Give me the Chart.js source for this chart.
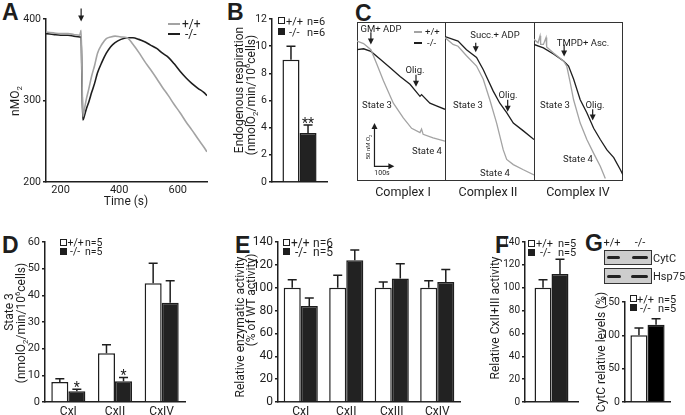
<!DOCTYPE html>
<html>
<head>
<meta charset="utf-8">
<title>Respiration panels</title>
<script src="https://cdn.jsdelivr.net/npm/chart.js@4.4.1/dist/chart.umd.min.js"></script>
<style>
  body { margin: 0; background: #fff; }
  #fig { position: relative; width: 685px; height: 415px; overflow: hidden; font-family: Roboto, sans-serif; color: #1e1e1e; }
  canvas { position: absolute; }
  .c, .l, .v { position: absolute; white-space: pre; line-height: 1; }
  .c { transform: translate(-50%, -50%); }
  .l { transform: translate(0, -50%); }
  .v { transform: translate(-50%, -50%) rotate(-90deg); }
  .big { position: absolute; font: bold 23px "Liberation Sans", Arial, sans-serif; line-height: 1; }
  .sq { position: absolute; width: 7px; height: 7px; box-sizing: border-box; border: 1px solid #1e1e1e; background: #fff; }
  .sq.k { background: #1e1e1e; }
  .ln { position: absolute; height: 2px; }
  sub, sup { font-size: 0.65em; line-height: 0; }
  .frame { position: absolute; box-sizing: border-box; border: 1.5px solid #333; }
  .div { position: absolute; width: 1.5px; background: #333; }
  .blot { position: absolute; box-sizing: border-box; background: #cdcdcd; border: 1px solid #333; }
  .band { position: absolute; height: 3px; background: #222; border-radius: 2px; filter: blur(0.6px); }
  .s12 { font-size: 12px; }
  .s11 { font-size: 11px; }
  .s10 { font-size: 9.5px; }
  .s105 { font-size: 10.5px; }
</style>
</head>
<body>
<div id="fig">
  <!-- panel letters -->
  <div class="big" style="left:2px;top:1px">A</div>
  <div class="big" style="left:227px;top:1px">B</div>
  <div class="big" style="left:355px;top:2px">C</div>
  <div class="big" style="left:2px;top:234px">D</div>
  <div class="big" style="left:235px;top:234px">E</div>
  <div class="big" style="left:495px;top:234px">F</div>
  <div class="big" style="left:585px;top:232px">G</div>

  <!-- C frames -->
  <div class="frame" style="left:357px;top:22px;width:266px;height:159px"></div>
  <div class="div" style="left:444.5px;top:22px;height:159px"></div>
  <div class="div" style="left:533.5px;top:22px;height:159px"></div>

  <canvas id="chA"></canvas>
  <canvas id="chB"></canvas>
  <canvas id="chC1"></canvas>
  <canvas id="chC2"></canvas>
  <canvas id="chC4"></canvas>
  <canvas id="chD"></canvas>
  <canvas id="chE"></canvas>
  <canvas id="chF"></canvas>
  <canvas id="chG"></canvas>

  <!-- A texts -->
  <div class="v s12" style="left:15px;top:101px">nMO<sub>2</sub></div>
  <div class="c s12" style="left:126px;top:201px">Time (s)</div>
  <div class="ln" style="left:168px;top:23px;width:12px;background:#a3a3a3"></div>
  <div class="l s12" style="left:182px;top:24px">+/+</div>
  <div class="ln" style="left:168px;top:33px;width:12px;background:#1e1e1e"></div>
  <div class="l s12" style="left:185px;top:34px">-/-</div>

  <!-- B texts -->
  <div class="v s12" style="left:238.5px;top:90px">Endogenous respiration</div>
  <div class="v s12" style="left:251px;top:95px">(nmolO<sub>2</sub>/min/10<sup>6</sup>cells)</div>
  <div class="sq" style="left:278px;top:17px"></div>
  <div class="l s11" style="left:286px;top:20.5px">+/+</div>
  <div class="l s11" style="left:307px;top:20.5px">n=6</div>
  <div class="sq k" style="left:278px;top:28px"></div>
  <div class="l s11" style="left:289px;top:31.5px">-/-</div>
  <div class="l s11" style="left:307px;top:31.5px">n=6</div>

  <!-- C texts -->
  <div class="c s10" style="left:381px;top:29px">GM+ ADP</div>
  <div class="ln" style="left:414px;top:31px;width:8px;height:1.5px;background:#a3a3a3"></div>
  <div class="l s10" style="left:425px;top:32px">+/+</div>
  <div class="ln" style="left:414px;top:42px;width:8px;height:1.5px;background:#1e1e1e"></div>
  <div class="l s10" style="left:427px;top:43px">-/-</div>
  <div class="c s10" style="left:415px;top:70px">Olig.</div>
  <div class="c s10" style="left:377px;top:105px">State 3</div>
  <div class="c s10" style="left:427px;top:151px">State 4</div>
  <div class="v" style="left:368px;top:147px;font-size:6px">50 nM O<sub>2</sub></div>
  <div class="c" style="left:382px;top:173px;font-size:7px">100s</div>
  <div class="c s10" style="left:495px;top:35px">Succ.+ ADP</div>
  <div class="c s10" style="left:508px;top:95px">Olig.</div>
  <div class="c s10" style="left:468px;top:105px">State 3</div>
  <div class="c s10" style="left:495px;top:173px">State 4</div>
  <div class="c s10" style="left:583px;top:43px">TMPD+ Asc.</div>
  <div class="c s10" style="left:555px;top:105px">State 3</div>
  <div class="c s10" style="left:595px;top:105px">Olig.</div>
  <div class="c s10" style="left:578px;top:159px">State 4</div>
  <div class="c" style="left:403px;top:192px;font-size:12.5px">Complex I</div>
  <div class="c" style="left:488px;top:192px;font-size:12.5px">Complex II</div>
  <div class="c" style="left:578px;top:192px;font-size:12.5px">Complex IV</div>

  <!-- D texts -->
  <div class="v s12" style="left:9px;top:312px">State 3</div>
  <div class="v s12" style="left:21px;top:323px">(nmolO<sub>2</sub>/min/10<sup>6</sup>cells)</div>
  <div class="sq" style="left:60px;top:239px"></div>
  <div class="l s105" style="left:67.5px;top:242.5px">+/+</div>
  <div class="l s105" style="left:85px;top:242.5px">n=5</div>
  <div class="sq k" style="left:60px;top:248px"></div>
  <div class="l s105" style="left:70px;top:251.5px">-/-</div>
  <div class="l s105" style="left:85px;top:251.5px">n=5</div>

  <!-- E texts -->
  <div class="v s12" style="left:240px;top:327px">Relative enzymatic activity</div>
  <div class="v s12" style="left:251px;top:300px">(% of WT activity)</div>
  <div class="sq" style="left:283px;top:239px"></div>
  <div class="l s12" style="left:291px;top:242.5px">+/+</div>
  <div class="l s12" style="left:313px;top:242.5px">n=6</div>
  <div class="sq k" style="left:283px;top:248px"></div>
  <div class="l s12" style="left:295px;top:251.5px">-/-</div>
  <div class="l s12" style="left:313px;top:251.5px">n=5</div>

  <!-- F texts -->
  <div class="v s12" style="left:495px;top:318px">Relative CxII+III activity</div>
  <div class="sq" style="left:528px;top:240px"></div>
  <div class="l s11" style="left:536px;top:243px">+/+</div>
  <div class="l s11" style="left:558px;top:243px">n=5</div>
  <div class="sq k" style="left:528px;top:249px"></div>
  <div class="l s11" style="left:540px;top:252px">-/-</div>
  <div class="l s11" style="left:558px;top:252px">n=5</div>

  <!-- G texts and blot -->
  <div class="c s11" style="left:612px;top:242px">+/+</div>
  <div class="c s11" style="left:640px;top:242px">-/-</div>
  <div class="blot" style="left:604px;top:250px;width:48px;height:15px"></div>
  <div class="band" style="left:607px;top:256px;width:13px"></div>
  <div class="band" style="left:632px;top:256px;width:16px"></div>
  <div class="blot" style="left:604px;top:268px;width:48px;height:16px"></div>
  <div class="band" style="left:607px;top:275px;width:14px"></div>
  <div class="band" style="left:631px;top:275px;width:17px"></div>
  <div class="l s11" style="left:653px;top:258px">CytC</div>
  <div class="l s11" style="left:653px;top:276px">Hsp75</div>
  <div class="v s12" style="left:601px;top:352px">CytC relative levels (%)</div>
  <div class="sq" style="left:630px;top:295px"></div>
  <div class="l s11" style="left:637px;top:299px">+/+</div>
  <div class="l s11" style="left:658px;top:299px">n=5</div>
  <div class="sq k" style="left:630px;top:304px"></div>
  <div class="l s11" style="left:640px;top:308px">-/-</div>
  <div class="l s11" style="left:658px;top:308px">n=5</div>
</div>

<script>
const F = 'Roboto';
const ink = '#1e1e1e';
const lightInk = '#a3a3a3';

// A: oxygen trace, time (s) vs nmol O2
const timeA = [150,175,200,225,245,265,270,273,276,281,288,296,306,316,326,341,356,371,386,406,
               427,447,467,487,507,528,548,568,588,608,628,648,669,689,700];
const wtA = [384,383,382,382,381,380,386,330,280,289,302,314,330,343,358,369,376,378,379,378,
             377,369,359,348,338,327,316,306,295,285,274,264,253,243,237];
const koA = [382,381,380,380,379,378,378,320,276,281,290,298,310,321,334,347,358,366,371,375,
             377,377,375,372,368,364,358,353,345,336,328,321,315,310,306];
const timeTicksA = [200,400,600];
const nmoTicksA = [200,300,400];

// B: endogenous respiration
const bLabels = [''];
const bWT = [9.0], bKO = [3.6];
const bWTerr = [10.0], bKOerr = [4.2];
const bStars = ['**'];
const bTicks = [0,2,4,6,8,10,12];

// C: oxygraph traces (time s, O2 nM) per complex
const tC1wt = [0,33,70,100,133,183,233,275,317,325,333,383,443];
const o2C1wt = [162,159,152,135,116,90,73,61,56,60,54,50,46];
const tC1ko = [0,33,70,117,167,217,267,317,325,367,400,443];
const o2C1ko = [152,153,150,141,131,121,112,98,100,90,87,83];
const tC2wt = [0,40,65,107,157,190,223,257,290,307,340,390,443];
const o2C2wt = [166,158,156,145,133,118,94,67,36,25,19,13,7];
const tC2ko = [0,40,65,107,157,190,240,273,307,340,390,443];
const o2C2ko = [167,164,162,152,143,129,104,90,79,67,58,48];
const tC4wt = [0,20,30,33,47,60,63,97,147,163,180,197,230,263,297,330,355];
const o2C4wt = [164,160,168,158,158,166,155,148,139,133,114,94,67,48,32,17,3];
const tC4ko = [0,47,97,147,172,197,230,263,297,330,363,397,430,443];
const o2C4ko = [158,154,147,139,133,118,94,79,61,48,36,27,13,7];

// D: state 3 respiration
const dLabels = ['CxI','CxII','CxIV'];
const dWT = [7.5,18.3,44.5], dKO = [4.0,7.8,37.2];
const dWTerr = [8.7,21.5,52.0], dKOerr = [4.8,9.2,45.5];
const dStars = ['*','*',''];
const dTicks = [0,10,20,30,40,50,60];

// E: enzymatic activity
const eLabels = ['CxI','CxII','CxIII','CxIV'];
const eWT = [100,100,100,100], eKO = [84,124,108,105];
const eWTerr = [107,111,105,106], eKOerr = [91,133,121,116];
const pctTicks = [0,20,40,60,80,100,120,140];

// F: CxII+III activity
const fLabels = [''];
const fWT = [100], fKO = [112];
const fWTerr = [107], fKOerr = [125];

// G: CytC levels
const gLabels = [''];
const gWT = [100], gKO = [116];
const gWTerr = [111], gKOerr = [125];
const gTicks = [0,50,100,150];

function place(id, area, pad) {
  const cv = document.getElementById(id);
  cv.width = Math.round(area.r - area.l + pad.l + pad.r);
  cv.height = Math.round(area.b - area.t + pad.t + pad.b);
  cv.style.left = (area.l - pad.l) + 'px';
  cv.style.top = (area.t - pad.t) + 'px';
  return cv;
}

const errorBars = {
  id: 'errorBars',
  afterDatasetsDraw(chart) {
    const ctx = chart.ctx, y = chart.scales.y;
    ctx.save();
    ctx.strokeStyle = ink; ctx.fillStyle = ink; ctx.lineWidth = 1.5;
    chart.data.datasets.forEach((ds, i) => {
      chart.getDatasetMeta(i).data.forEach((bar, j) => {
        const top = y.getPixelForValue(ds.err[j]);
        ctx.beginPath();
        ctx.moveTo(bar.x, bar.y); ctx.lineTo(bar.x, top);
        ctx.moveTo(bar.x - 4.5, top); ctx.lineTo(bar.x + 4.5, top);
        ctx.stroke();
        if (ds.stars && ds.stars[j]) {
          ctx.font = '14px ' + F; ctx.textAlign = 'center'; ctx.textBaseline = 'alphabetic';
          ctx.fillText(ds.stars[j], bar.x, top + 3);
        }
      });
    });
    ctx.restore();
  }
};

// down arrows (and the optional scale bar) in data units
function arrows(list, bar) {
  return {
    id: 'arrows',
    afterDatasetsDraw(chart) {
      const ctx = chart.ctx, x = chart.scales.x, y = chart.scales.y;
      ctx.save();
      ctx.strokeStyle = ink; ctx.fillStyle = ink; ctx.lineWidth = 1.2;
      list.forEach(a => {
        const px = x.getPixelForValue(a.t), p1 = y.getPixelForValue(a.y1), p2 = y.getPixelForValue(a.y2);
        ctx.beginPath(); ctx.moveTo(px, p1); ctx.lineTo(px, p2 - 4); ctx.stroke();
        ctx.beginPath(); ctx.moveTo(px - 3, p2 - 6); ctx.lineTo(px + 3, p2 - 6); ctx.lineTo(px, p2); ctx.closePath(); ctx.fill();
      });
      if (bar) {
        const x0 = x.getPixelForValue(bar.t), y0 = y.getPixelForValue(bar.o2);
        const x1 = x.getPixelForValue(bar.t + bar.dt), y1 = y.getPixelForValue(bar.o2 + bar.dO2);
        ctx.beginPath(); ctx.moveTo(x0, y1 + 5); ctx.lineTo(x0, y0); ctx.lineTo(x1 - 5, y0); ctx.stroke();
        ctx.beginPath(); ctx.moveTo(x0 - 3, y1 + 6); ctx.lineTo(x0 + 3, y1 + 6); ctx.lineTo(x0, y1); ctx.closePath(); ctx.fill();
        ctx.beginPath(); ctx.moveTo(x1 - 6, y0 - 3); ctx.lineTo(x1 - 6, y0 + 3); ctx.lineTo(x1, y0); ctx.closePath(); ctx.fill();
      }
      ctx.restore();
    }
  };
}

function pts(xs, ys) { return xs.map((v, i) => ({ x: v, y: ys[i] })); }

// panel A
const padA = { l: 40, t: 16, r: 8, b: 16 };
new Chart(place('chA', { l: 46, t: 19, r: 207, b: 182 }, padA), {
  type: 'line',
  data: { datasets: [
    { data: pts(timeA, wtA), borderColor: lightInk, borderWidth: 1.6 },
    { data: pts(timeA, koA), borderColor: ink, borderWidth: 1.6 }
  ]},
  options: {
    responsive: false, animation: false,
    layout: { padding: { top: padA.t, right: padA.r } },
    elements: { point: { radius: 0 }, line: { cubicInterpolationMode: 'monotone' } },
    plugins: { legend: { display: false }, tooltip: { enabled: false } },
    scales: {
      x: { type: 'linear', min: 150, max: 700, grid: { display: false, drawTicks: false }, border: { color: ink, width: 1.5 },
           ticks: { color: ink, font: { family: F, size: 11 }, padding: 2 },
           afterBuildTicks: s => { s.ticks = timeTicksA.map(v => ({ value: v })); },
           afterFit: s => { s.height = padA.b; } },
      y: { min: 200, max: 400, grid: { drawOnChartArea: false, color: ink, lineWidth: 1.5, tickLength: 3 },
           border: { color: ink, width: 1.5 },
           ticks: { color: ink, font: { family: F, size: 10.5 }, padding: 2 },
           afterBuildTicks: s => { s.ticks = nmoTicksA.map(v => ({ value: v })); },
           afterFit: s => { s.width = padA.l; } }
    }
  },
  plugins: [arrows([{ t: 270, y1: 413, y2: 397 }])]
});

// panel C traces
function tracePanel(id, left, w, tw, ow, tk, ok, list, bar) {
  new Chart(place(id, { l: left, t: 22, r: left + w, b: 181 }, { l: 0, t: 0, r: 0, b: 0 }), {
    type: 'line',
    data: { datasets: [
      { data: pts(tw, ow), borderColor: lightInk, borderWidth: 1.3 },
      { data: pts(tk, ok), borderColor: ink, borderWidth: 1.3 }
    ]},
    options: {
      responsive: false, animation: false,
      layout: { padding: 0 },
      elements: { point: { radius: 0 }, line: { tension: 0 } },
      plugins: { legend: { display: false }, tooltip: { enabled: false } },
      scales: {
        x: { type: 'linear', display: false, min: 0, max: 443 },
        y: { display: false, min: 0, max: 184 }
      }
    },
    plugins: [arrows(list, bar)]
  });
}
tracePanel('chC1', 357, 88, tC1wt, o2C1wt, tC1ko, o2C1ko,
  [{ t: 70, y1: 172, y2: 158 }, { t: 297, y1: 123, y2: 109 }],
  { t: 88, o2: 17, dt: 100, dO2: 50 });
tracePanel('chC2', 445, 89, tC2wt, o2C2wt, tC2ko, o2C2ko,
  [{ t: 153, y1: 160, y2: 149 }, { t: 312, y1: 94, y2: 80 }]);
tracePanel('chC4', 534, 89, tC4wt, o2C4wt, tC4ko, o2C4ko,
  [{ t: 150, y1: 158, y2: 144 }, { t: 292, y1: 83, y2: 70 }]);

// bar panels
function barPanel(id, area, labels, wt, ko, wtErr, koErr, yMax, ticks, stars, catPct, koColor, fs) {
  const pad = { l: 40, t: 10, r: 6, b: 17 };
  return new Chart(place(id, area, pad), {
    type: 'bar',
    data: { labels: labels, datasets: [
      { data: wt, err: wtErr, backgroundColor: '#fff', borderColor: ink, borderWidth: 1.5,
        categoryPercentage: catPct, barPercentage: 1 },
      { data: ko, err: koErr, stars: stars, backgroundColor: koColor, borderColor: ink, borderWidth: 1.5,
        categoryPercentage: catPct, barPercentage: 1 }
    ]},
    options: {
      responsive: false, animation: false,
      layout: { padding: { top: pad.t, right: pad.r, left: 0, bottom: 0 } },
      plugins: { legend: { display: false }, tooltip: { enabled: false } },
      scales: {
        x: { grid: { display: false, drawTicks: false }, border: { color: ink, width: 1.5 },
             ticks: { color: ink, font: { family: F, size: 12 }, padding: 3, maxRotation: 0 },
             afterFit: s => { s.height = pad.b; } },
        y: { min: 0, max: yMax, grid: { drawOnChartArea: false, color: ink, lineWidth: 1.5, tickLength: 3 },
             border: { color: ink, width: 1.5 },
             ticks: { color: ink, font: { family: F, size: fs }, padding: 2 },
             afterBuildTicks: s => { s.ticks = ticks.map(v => ({ value: v })); },
             afterFit: s => { s.width = pad.l; } }
      }
    },
    plugins: [errorBars]
  });
}

barPanel('chB', { l: 272, t: 19, r: 327, b: 182 }, bLabels, bWT, bKO, bWTerr, bKOerr, 12, bTicks, bStars, 0.62, '#222', 10.5);
barPanel('chD', { l: 45, t: 242, r: 185, b: 402 }, dLabels, dWT, dKO, dWTerr, dKOerr, 60, dTicks, dStars, 0.73, '#222', 11);
barPanel('chE', { l: 278, t: 242, r: 460, b: 402 }, eLabels, eWT, eKO, eWTerr, eKOerr, 140, pctTicks, null, 0.75, '#222', 12);
barPanel('chF', { l: 525, t: 242, r: 578, b: 402 }, fLabels, fWT, fKO, fWTerr, fKOerr, 140, pctTicks, null, 0.64, '#222', 10);
barPanel('chG', { l: 625, t: 302, r: 670, b: 402 }, gLabels, gWT, gKO, gWTerr, gKOerr, 150, gTicks, null, 0.76, '#000', 10.5);
</script>
</body>
</html>
